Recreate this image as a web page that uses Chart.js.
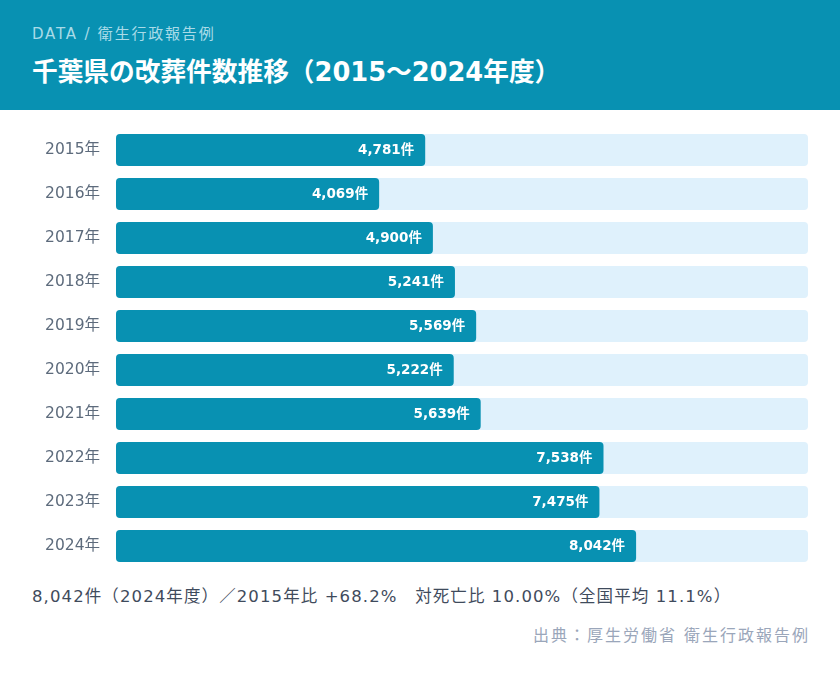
<!DOCTYPE html>
<html><head><meta charset="utf-8">
<script src="https://cdn.jsdelivr.net/npm/chart.js@4/dist/chart.umd.min.js"></script>
<style>
html,body{margin:0;padding:0;background:#fff;width:840px;height:676px;overflow:hidden;font-family:"DejaVu Sans","Noto Sans CJK JP",sans-serif;}
.hdr{position:absolute;left:0;top:0;width:840px;height:110px;background:#0891b2;}
.sub{position:absolute;left:32px;top:22px;font-size:15px;color:#a9dbe8;letter-spacing:1.8px;white-space:nowrap;}
.ttl{position:absolute;left:32px;top:51px;font-size:25.7px;font-weight:bold;color:#fff;white-space:nowrap;}
.wrap{position:absolute;left:0;top:128px;width:840px;height:440px;}
.note{position:absolute;left:32px;top:583px;font-size:16.5px;color:#3f4b5c;letter-spacing:1.1px;white-space:nowrap;}
.cjk{font-family:"Noto Sans CJK JP",sans-serif;}
.src{position:absolute;right:30px;top:622px;font-size:16px;color:#9aa6ba;letter-spacing:2px;white-space:nowrap;}
</style></head><body>
<div class="hdr"><div class="sub">DATA / 衛生行政報告例</div><div class="ttl">千葉県の改葬件数推移（2015～2024年度）</div></div>
<div class="wrap"><canvas id="c" width="840" height="440"></canvas></div>
<div class="note">8,042件（2024年度）<span class="cjk">／</span>2015年比 +68.2%　対死亡比 10.00%（全国平均 11.1%）</div>
<div class="src">出典：厚生労働省 衛生行政報告例</div>
<script>
const categories = ["2015年","2016年","2017年","2018年","2019年","2020年","2021年","2022年","2023年","2024年"];
const values = [4781,4069,4900,5241,5569,5222,5639,7538,7475,8042];
const scaleMax = 10700;
const trackValues = categories.map(() => scaleMax);
const FONT = '"DejaVu Sans", "Noto Sans CJK JP", sans-serif';

const labelPlugin = {
  id: 'barLabels',
  afterDatasetsDraw(chart) {
    const ctx = chart.ctx;
    const meta = chart.getDatasetMeta(1);
    ctx.save();
    ctx.font = 'bold 13.5px ' + FONT;
    ctx.fillStyle = '#ffffff';
    ctx.textAlign = 'right';
    ctx.textBaseline = 'middle';
    meta.data.forEach((bar, i) => {
      ctx.fillText(values[i].toLocaleString('en-US') + '件', bar.x - 11, bar.y);
    });
    ctx.restore();
  }
};

new Chart(document.getElementById('c'), {
  type: 'bar',
  data: {
    labels: categories,
    datasets: [
      { data: trackValues, backgroundColor: '#dff1fc', borderRadius: 4, borderSkipped: false, grouped: false, order: 2, barPercentage: 0.727, categoryPercentage: 1 },
      { data: values, backgroundColor: '#0891b2', borderRadius: 4, borderSkipped: false, grouped: false, order: 1, barPercentage: 0.727, categoryPercentage: 1 }
    ]
  },
  options: {
    indexAxis: 'y',
    responsive: false,
    animation: false,
    devicePixelRatio: 1,
    layout: { padding: { left: 0, right: 32, top: 0, bottom: 0 } },
    plugins: { legend: { display: false }, tooltip: { enabled: false } },
    scales: {
      x: { min: 0, max: scaleMax, display: false, grid: { display: false } },
      y: {
        grid: { display: false, drawTicks: false }, border: { display: false },
        ticks: { color: '#5d6b7c', font: { size: 15.5, family: FONT }, padding: 16 },
        afterFit(s) { s.width = 116; s.paddingTop = 0; s.paddingBottom = 0; }
      }
    }
  },
  plugins: [labelPlugin]
});
</script>
</body></html>
